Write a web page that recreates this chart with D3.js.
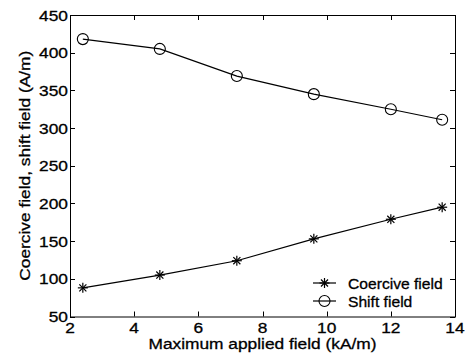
<!DOCTYPE html>
<html><head><meta charset="utf-8">
<script src="https://cdn.jsdelivr.net/npm/d3@7"></script>
<style>body{margin:0;background:#fff}svg{display:block}text{font-family:"Liberation Sans",Arial,sans-serif;fill:#000;stroke:#000;stroke-width:0.3px}</style>
</head><body><svg id="c" width="468" height="353"></svg>
<script>
const fieldX = [2.4, 4.8, 7.2, 9.6, 12, 13.6];
const coercive = [88, 105, 124, 153, 179, 195];
const shift = [418, 405, 369, 345, 325, 311];
const xTicks = [2, 4, 6, 8, 10, 12, 14];
const yTicks = [50, 100, 150, 200, 250, 300, 350, 400, 450];
const seriesNames = ["Coercive field", "Shift field"];

const svg = d3.select("#c");
const L = 70, R = 455, T = 15, B = 316.5;
const x = d3.scaleLinear().domain([2, 14]).range([L, R]);
const y = d3.scaleLinear().domain([50, 450]).range([B, T]);
const SX = 1.14, FS = 15.2;

// ticks inside on all sides
const tl = 5;
const g = svg.append("g").attr("stroke", "#000").attr("stroke-width", 1);
xTicks.forEach(v => {
  const px = Math.round(x(v)) + 0.5;
  g.append("line").attr("x1", px).attr("x2", px).attr("y1", B).attr("y2", B - tl);
  g.append("line").attr("x1", px).attr("x2", px).attr("y1", T).attr("y2", T + tl);
});
yTicks.forEach(v => {
  const py = Math.round(y(v)) + 0.5;
  g.append("line").attr("x1", L).attr("x2", L + tl).attr("y1", py).attr("y2", py);
  g.append("line").attr("x1", R).attr("x2", R - tl).attr("y1", py).attr("y2", py);
});
svg.append("rect").attr("x", L + 0.5).attr("y", T + 0.5).attr("width", R - L).attr("height", B - T)
  .attr("fill", "none").attr("stroke", "#000").attr("stroke-width", 1);

// tick labels
svg.append("g").selectAll("text").data(xTicks).join("text")
  .attr("transform", d => `translate(${x(d)},333) scale(${SX},1)`).attr("text-anchor", "middle")
  .attr("font-size", FS).text(d => d);
svg.append("g").selectAll("text").data(yTicks).join("text")
  .attr("transform", d => `translate(${L - 2},${y(d) + 5.5}) scale(${SX},1)`).attr("text-anchor", "end")
  .attr("font-size", FS).text(d => d);

// axis titles
svg.append("text").attr("transform", `translate(${x(8)},348.5) scale(${SX},1)`).attr("text-anchor", "middle")
  .attr("font-size", FS).text("Maximum applied field (kA/m)");
svg.append("text").attr("transform", `translate(30,${(T + B) / 2}) rotate(-90) scale(${SX},1)`)
  .attr("text-anchor", "middle").attr("font-size", FS).text("Coercive field, shift field (A/m)");

const line = d3.line().x((d, i) => x(fieldX[i])).y(d => y(d));

function star(sel, cx, cy, r) {
  const gg = sel.append("g").attr("stroke", "#000").attr("stroke-width", 1.2);
  [0, 45, 90, 135].forEach(a => {
    const rad = a * Math.PI / 180;
    gg.append("line").attr("x1", cx - r * Math.cos(rad)).attr("y1", cy - r * Math.sin(rad))
      .attr("x2", cx + r * Math.cos(rad)).attr("y2", cy + r * Math.sin(rad));
  });
}
function circ(sel, cx, cy, r) {
  sel.append("circle").attr("cx", cx).attr("cy", cy).attr("r", r)
    .attr("fill", "none").attr("stroke", "#000").attr("stroke-width", 1.1);
}

svg.append("path").datum(coercive).attr("d", line).attr("fill", "none").attr("stroke", "#000").attr("stroke-width", 1.2);
svg.append("path").datum(shift).attr("d", line).attr("fill", "none").attr("stroke", "#000").attr("stroke-width", 1.2);
const mk = svg.append("g");
coercive.forEach((v, i) => star(mk, x(fieldX[i]), y(v), 5));
shift.forEach((v, i) => circ(mk, x(fieldX[i]), y(v), 5.5));

// legend
const lg = svg.append("g");
const ly = [283, 301];
seriesNames.forEach((n, i) => {
  lg.append("line").attr("x1", 313).attr("x2", 336).attr("y1", ly[i]).attr("y2", ly[i])
    .attr("stroke", "#000").attr("stroke-width", 1.2);
  if (i === 0) star(lg, 324.5, ly[i], 5); else circ(lg, 324.5, ly[i], 5.5);
  lg.append("text").attr("transform", `translate(348,${ly[i] + 5.5}) scale(1.03,1)`)
    .attr("font-size", FS).text(n);
});
</script></body></html>
